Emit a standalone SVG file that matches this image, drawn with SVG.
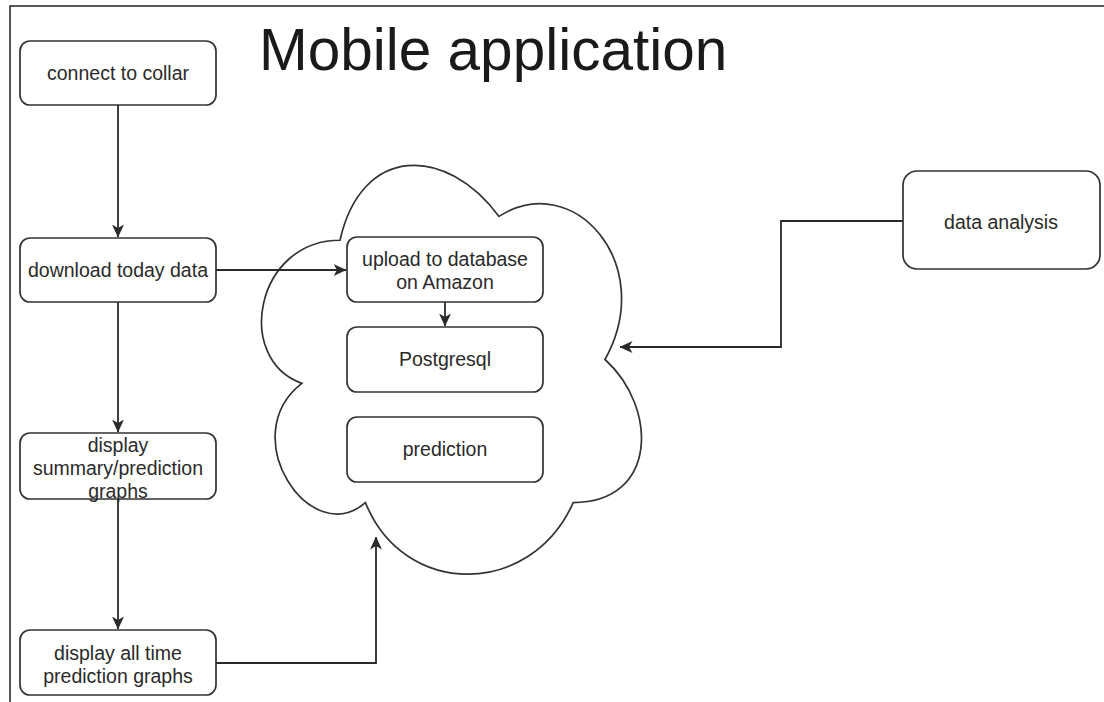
<svg xmlns="http://www.w3.org/2000/svg" width="1104" height="702" viewBox="0 0 1104 702">
  <style>
    .frame { fill: none; stroke: #222; stroke-width: 1.5; }
    .node rect { fill: #fff; stroke: #333; stroke-width: 1.7; }
    .node text, .label { font-family: "Liberation Sans", Arial, sans-serif; font-size: 19.5px; fill: #2a2a2a; text-anchor: middle; }
    .title { font-family: "Liberation Sans", Arial, sans-serif; font-size: 58.5px; fill: #1a1a1a; }
    .cloud { fill: #fff; stroke: #333; stroke-width: 1.7; }
    .edge { fill: none; stroke: #2a2a2a; stroke-width: 1.8; marker-end: url(#arrow); }
  </style>
  <defs>
    <marker id="arrow" viewBox="0 0 13 12" refX="12.5" refY="6" markerWidth="13" markerHeight="12" markerUnits="userSpaceOnUse" orient="auto">
      <path d="M0,0 L13,6 L0,12 L3.5,6 Z" fill="#2a2a2a"/>
    </marker>
  </defs>

  <rect width="1104" height="702" fill="#fff"/>
  <!-- page frame -->
  <path class="frame" d="M10,702 L10,6 L1104,6"/>

  <text class="title" x="259" y="70">Mobile application</text>

  <!-- cloud container -->
  <g id="cloud">
    <path class="cloud" d="M340,240.25 C255.2,240.25 234,359.5 301.84,383.35 C234,435.82 310.32,550.3 365.44,502.6 C403.6,598 530.8,598 573.2,502.6 C658,502.6 658,407.2 605,359.5 C658,264.1 573.2,168.7 499,216.4 C446,144.85 361.2,144.85 340,240.25 Z"/>
  </g>

  <g id="connect-to-collar" class="node">
    <rect x="20" y="41" width="196" height="64" rx="10"/>
    <text x="118" y="80">connect to collar</text>
  </g>
  <g id="download-today-data" class="node">
    <rect x="20" y="238" width="196" height="64" rx="10"/>
    <text x="118" y="277">download today data</text>
  </g>
  <g id="display-summary" class="node">
    <rect x="20" y="433" width="196" height="66" rx="10"/>
    <text x="118" y="452">display</text>
    <text x="118" y="475">summary/prediction</text>
    <text x="118" y="498">graphs</text>
  </g>
  <g id="display-all-time" class="node">
    <rect x="20" y="630" width="196" height="65" rx="10"/>
    <text x="118" y="660">display all time</text>
    <text x="118" y="683">prediction graphs</text>
  </g>
  <g id="upload" class="node">
    <rect x="347" y="237" width="196" height="65" rx="10"/>
    <text x="445" y="266">upload to database</text>
    <text x="445" y="289">on Amazon</text>
  </g>
  <g id="postgresql" class="node">
    <rect x="347" y="327" width="196" height="65" rx="10"/>
    <text x="445" y="366">Postgresql</text>
  </g>
  <g id="prediction" class="node">
    <rect x="347" y="417" width="196" height="65" rx="10"/>
    <text x="445" y="456">prediction</text>
  </g>
  <g id="data-analysis" class="node">
    <rect x="903" y="171" width="197" height="98" rx="14"/>
    <text x="1001" y="229">data analysis</text>
  </g>

  <g id="connectors">
    <path class="edge" d="M118,105 L118,237"/>
    <path class="edge" d="M216,270 L346,270"/>
    <path class="edge" d="M445,302 L445,326"/>
    <path class="edge" d="M118,302 L118,432"/>
    <path class="edge" d="M118,499 L118,629"/>
    <path class="edge" d="M216,663 L376,663 L376,537"/>
    <path class="edge" d="M903,221 L781,221 L781,347 L620,347"/>
  </g>
</svg>
